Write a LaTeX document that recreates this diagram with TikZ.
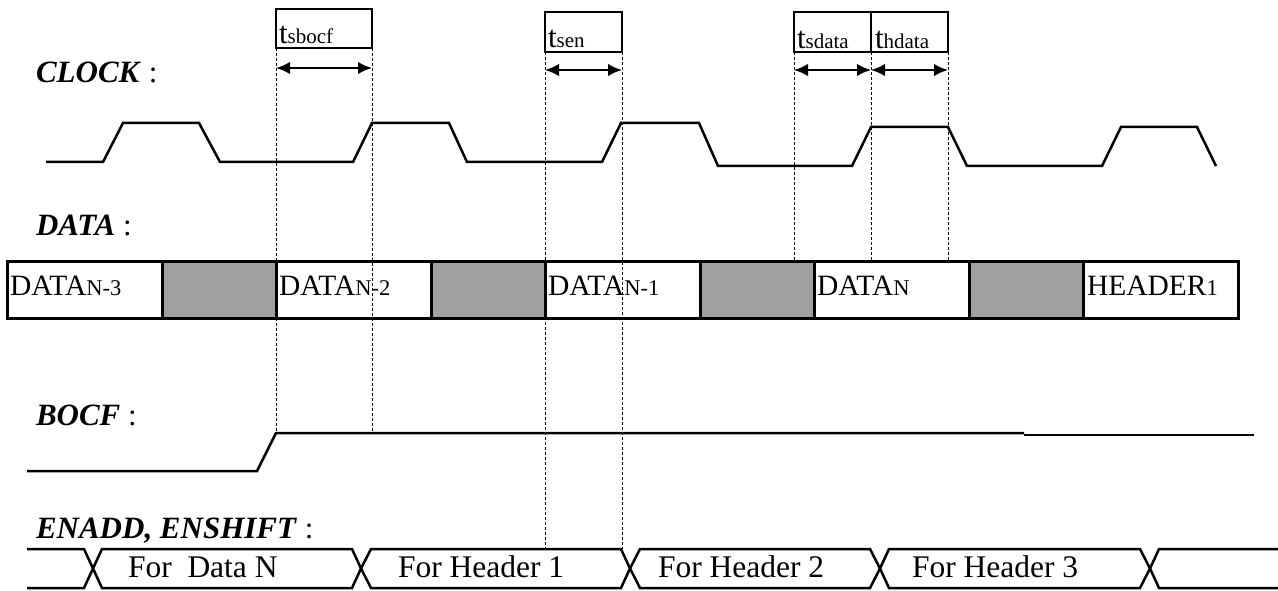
\documentclass[tikz,border=0pt]{standalone}
\usepackage{fontspec}
\setmainfont{Liberation Serif}
\usetikzlibrary{arrows.meta}
\definecolor{cellgray}{RGB}{160,160,160}
\newcommand\szMain{\fontsize{29.5}{32}\selectfont}
\newcommand\szSub{\fontsize{22.5}{24}\selectfont}
\newcommand\szLbl{\fontsize{31}{34}\selectfont}
\newcommand\szBus{\fontsize{31.5}{34}\selectfont}
\newcommand\szT{\fontsize{31}{34}\selectfont}
\newcommand\szTs{\fontsize{21}{23}\selectfont}
\begin{document}
\begin{tikzpicture}[x=1pt,y=-1pt,
  wave/.style={line width=2.5pt,line join=miter,line cap=butt},
  guide/.style={line width=0.9pt,dash pattern=on 3pt off 2pt},
  tbox/.style={draw,line width=1.8pt,inner sep=0pt,outer sep=0pt,anchor=north west},
  cell/.style={draw,line width=3pt,fill=white,inner sep=0pt,outer sep=0pt,anchor=north west,minimum height=57pt},
  wcell/.style={cell,minimum width=155pt},
  gcell/.style={cell,fill=cellgray,minimum width=114pt},
  txt/.style={anchor=base west,inner sep=0pt,outer sep=0pt},
  dim/.style={line width=2.2pt,>={Latex[length=14pt,width=12.5pt]},<->},
]
\useasboundingbox (0,0) rectangle (1278,591);

% signal names
\node[txt] (lclock) at (36,83) {\szLbl\textbf{\textit{CLOCK}} :};
\node[txt] (ldata) at (36,235) {\szLbl\textbf{\textit{DATA}} :};
\node[txt] (lbocf) at (36,425) {\szLbl\textbf{\textit{BOCF}} :};
\node[txt] (lenadd) at (36,538) {\szLbl\textbf{\textit{ENADD, ENSHIFT}} :};

% timing boxes
\node[tbox,minimum width=96pt,minimum height=39pt] (ts1) at (276,9) {};
\node[tbox,minimum width=77pt,minimum height=40pt] (ts2) at (545,12) {};
\node[tbox,minimum width=77pt,minimum height=40pt] (ts3) at (794,12) {};
\node[tbox,minimum width=77pt,minimum height=40pt] (ts4) at (871,12) {};
\node[txt] (tl1) at (279,43.5) {\szT t\szTs sbocf};
\node[txt] (tl2) at (548,48) {\szT t\szTs sen};
\node[txt] (tl3) at (797,48.5) {\szT t\szTs sdata};
\node[txt] (tl4) at (875,48.5) {\szT t\szTs hdata};

% clock
\draw[wave] (46,162) -- (103,162) -- (123,123) -- (199,123) -- (220,162) -- (353,162)
  -- (372,123) -- (449,123) -- (467,162) -- (602,162) -- (621,123) -- (699,123)
  -- (718,166) -- (852,166) -- (871,127) -- (948,127) -- (967,166) -- (1102,166)
  -- (1121,127) -- (1197,127) -- (1216,166);

% data row
\node[wcell] (d1) at (7,261) {};
\node[gcell] (g1) at (162,261) {};
\node[wcell] (d2) at (276,261) {};
\node[gcell] (g2) at (431,261) {};
\node[wcell] (d3) at (545,261) {};
\node[gcell] (g3) at (700,261) {};
\node[wcell] (d4) at (814,261) {};
\node[gcell] (g4) at (969,261) {};
\node[wcell] (d5) at (1083,261) {};
\node[txt] (x1) at (10,295) {\szMain DATA\szSub N-3};
\node[txt] (x2) at (279,295) {\szMain DATA\szSub N-2};
\node[txt] (x3) at (548,295) {\szMain DATA\szSub N-1};
\node[txt] (x4) at (817,295) {\szMain DATA\szSub N};
\node[txt] (x5) at (1087,295) {\szMain HEADER\szSub 1};

% BOCF
\draw[wave] (27,471) -- (257,471) -- (276,433) -- (1024,433);
\draw[wave] (1024,435) -- (1254,435);

% ENADD, ENSHIFT bus
\draw[wave] (27,549) -- (84,549) -- (93,568.5) -- (84,588) -- (27,588);
\draw[wave] (93,568.5) -- (102,549) -- (352,549) -- (361,568.5) -- (352,588) -- (102,588) -- cycle;
\draw[wave] (361,568.5) -- (371,549) -- (621,549) -- (630,568.5) -- (621,588) -- (371,588) -- cycle;
\draw[wave] (630,568.5) -- (640,549) -- (870,549) -- (880,568.5) -- (870,588) -- (640,588) -- cycle;
\draw[wave] (880,568.5) -- (889,549) -- (1140,549) -- (1150,568.5) -- (1140,588) -- (889,588) -- cycle;
\draw[wave] (1278,549) -- (1159,549) -- (1150,568.5) -- (1159,588) -- (1278,588);
\node[txt] (bus1) at (128,577) {\szBus For\ \ Data N};
\node[txt] (bus2) at (398,577) {\szBus For Header 1};
\node[txt] (bus3) at (658,577) {\szBus For Header 2};
\node[txt] (bus4) at (912,577) {\szBus For Header 3};

% guide lines
\coordinate (b1) at (276,433);
\coordinate (b2) at (372,433);
\coordinate (e1) at (545,549);
\coordinate (e2) at (622,549);
\coordinate (c1) at (794,261);
\coordinate (c2) at (871,261);
\coordinate (c3) at (948,261);
\draw[guide] (ts1.south west) -- (b1);
\draw[guide] (ts1.south east) -- (b2);
\draw[guide] (ts2.south west) -- (e1);
\draw[guide] (ts2.south east) -- (e2);
\draw[guide] (ts3.south west) -- (c1);
\draw[guide] (ts3.south east) -- (c2);
\draw[guide] (ts4.south east) -- (c3);

% dimension arrows
\draw[dim] ([yshift=-20pt]ts1.south west) -- ([yshift=-20pt]ts1.south east);
\draw[dim] ([yshift=-18pt]ts2.south west) -- ([yshift=-18pt]ts2.south east);
\draw[dim] ([yshift=-18pt]ts3.south west) -- ([yshift=-18pt]ts3.south east);
\draw[dim] ([yshift=-18pt]ts4.south west) -- ([yshift=-18pt]ts4.south east);
\end{tikzpicture}
\end{document}
